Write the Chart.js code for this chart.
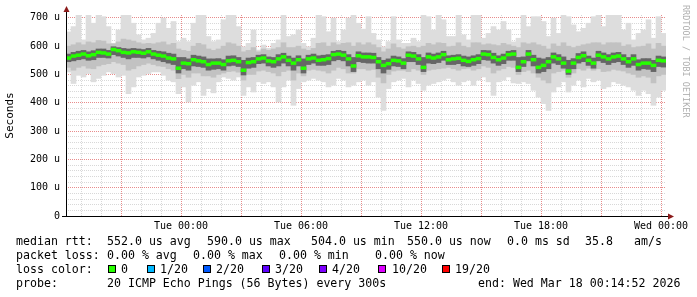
<!DOCTYPE html>
<html>
<head>
<meta charset="utf-8">
<script src="https://cdn.jsdelivr.net/npm/chart.js@4.4.1/dist/chart.umd.min.js"></script>
<style>
  html, body { margin: 0; padding: 0; background: #fff; }
  #wrap { position: relative; width: 697px; height: 297px; overflow: hidden; font-family: "DejaVu Sans Mono", monospace; }
  #wrap canvas { position: absolute; left: 0; top: 0; }
  .t { position: absolute; font-size: 11.6px; line-height: 14px; white-space: pre; color: #000; }
  .box { position: absolute; top: 265px; width: 6px; height: 6px; border: 1px solid #000; }
  #mark { position: absolute; left: 691px; top: 5px; font-size: 8.5px; line-height: 10px; color: #b0b0b0; white-space: pre; transform-origin: 0 0; transform: rotate(90deg); }
</style>
</head>
<body>
<div id="wrap">
  <canvas id="rtt" width="697" height="297"></canvas>
  <div id="mark">RRDTOOL / TOBI OETIKER</div>

  <span class="t" style="left:16px;top:234px">median rtt:</span>
  <span class="t" style="left:107px;top:234px">552.0 us avg</span>
  <span class="t" style="left:207px;top:234px">590.0 us max</span>
  <span class="t" style="left:311px;top:234px">504.0 us min</span>
  <span class="t" style="left:407px;top:234px">550.0 us now</span>
  <span class="t" style="left:507px;top:234px">0.0 ms sd</span>
  <span class="t" style="left:585px;top:234px">35.8</span>
  <span class="t" style="left:634px;top:234px">am/s</span>

  <span class="t" style="left:16px;top:248px">packet loss:</span>
  <span class="t" style="left:107px;top:248px">0.00 % avg</span>
  <span class="t" style="left:193px;top:248px">0.00 % max</span>
  <span class="t" style="left:279px;top:248px">0.00 % min</span>
  <span class="t" style="left:375px;top:248px">0.00 % now</span>

  <span class="t" style="left:16px;top:262px">loss color:</span>
  <span class="box" style="left:108px;background:#26ff00"></span><span class="t" style="left:121px;top:262px">0</span>
  <span class="box" style="left:147px;background:#00b8ff"></span><span class="t" style="left:160px;top:262px">1/20</span>
  <span class="box" style="left:203px;background:#0059ff"></span><span class="t" style="left:216px;top:262px">2/20</span>
  <span class="box" style="left:262px;background:#5e00ff"></span><span class="t" style="left:275px;top:262px">3/20</span>
  <span class="box" style="left:319px;background:#7e00ff"></span><span class="t" style="left:332px;top:262px">4/20</span>
  <span class="box" style="left:378px;background:#dd00ff"></span><span class="t" style="left:392px;top:262px">10/20</span>
  <span class="box" style="left:442px;background:#ff0000"></span><span class="t" style="left:455px;top:262px">19/20</span>

  <span class="t" style="left:16px;top:276px">probe:</span>
  <span class="t" style="left:107px;top:276px">20 ICMP Echo Pings (56 Bytes) every 300s</span>
  <span class="t" style="left:478px;top:276px">end: Wed Mar 18 00:14:52 2026</span>
</div>
<script>
// 15 minute slots, hours relative to Tue 00:00 (window: Mon 18:15 -> Wed 00:15)
const firstSlot = -5.625;
const slotHours = 0.25;

// median rtt per slot (microseconds)
const medianRtt = [
  558, 565, 568, 572, 566, 570, 578, 576, 572, 588,
  584, 578, 576, 580, 578, 575, 580, 572, 568, 565,
  558, 555, 522, 540, 538, 552, 548, 545, 535, 540,
  540, 535, 548, 550, 545, 515, 542, 545, 555, 558,
  548, 545, 555, 562, 550, 540, 552, 522, 555, 558,
  550, 552, 556, 570, 572, 568, 555, 530, 566, 562,
  562, 560, 545, 532, 538, 550, 548, 540, 568, 565,
  555, 525, 562, 558, 562, 570, 552, 555, 557, 550,
  546, 552, 556, 572, 570, 560, 552, 558, 570, 572,
  525, 545, 572, 552, 525, 532, 545, 562, 555, 540,
  512, 540, 560, 566, 550, 540, 568, 562, 555, 562,
  565, 555, 545, 555, 535, 540, 540, 532, 550, 548
];

// slowest / fastest ping per slot
const pingMax = [
  650, 669, 712, 622, 712, 681, 710, 704, 669, 610,
  657, 710, 712, 681, 640, 622, 628, 645, 681, 699,
  663, 687, 616, 628, 616, 681, 710, 710, 634, 616,
  622, 693, 712, 712, 669, 598, 610, 657, 586, 604,
  592, 610, 622, 710, 634, 640, 657, 610, 598, 628,
  710, 704, 651, 699, 616, 657, 699, 710, 681, 660,
  704, 645, 622, 598, 616, 704, 622, 610, 610, 628,
  616, 710, 704, 657, 710, 693, 634, 634, 710, 640,
  622, 710, 710, 628, 645, 669, 657, 687, 657, 615,
  628, 712, 669, 704, 704, 687, 634, 699, 645, 710,
  704, 675, 651, 663, 681, 704, 710, 669, 710, 710,
  710, 657, 681, 622, 645, 657, 693, 628, 704, 645
];
const pingMin = [
  509, 468, 497, 491, 503, 474, 486, 497, 509, 503,
  491, 497, 432, 456, 491, 497, 503, 509, 509, 497,
  480, 474, 432, 456, 403, 462, 474, 426, 450, 435,
  474, 491, 486, 480, 491, 426, 456, 438, 474, 468,
  474, 456, 403, 456, 480, 391, 450, 474, 480, 486,
  480, 474, 456, 462, 486, 480, 456, 462, 474, 480,
  462, 474, 420, 373, 450, 474, 480, 486, 456, 480,
  468, 444, 462, 468, 474, 480, 486, 474, 462, 474,
  480, 462, 480, 491, 474, 426, 474, 480, 491, 470,
  468, 474, 468, 444, 420, 397, 373, 438, 456, 474,
  438, 462, 480, 456, 486, 474, 480, 450, 456, 474,
  468, 462, 456, 444, 426, 444, 432, 391, 420, 444
];

// wide smoke band
const smokeHi = [
  600, 605, 612, 605, 615, 612, 620, 618, 608, 608,
  615, 625, 622, 618, 612, 608, 610, 608, 612, 615,
  605, 610, 590, 585, 582, 600, 610, 605, 590, 585,
  590, 600, 612, 608, 600, 580, 585, 595, 580, 590,
  585, 590, 595, 612, 595, 595, 600, 590, 585, 592,
  610, 612, 600, 612, 605, 610, 612, 600, 612, 605,
  612, 605, 595, 580, 590, 608, 595, 590, 598, 600,
  595, 600, 610, 605, 612, 610, 598, 600, 612, 600,
  595, 612, 612, 605, 608, 605, 602, 610, 605, 600,
  595, 612, 608, 612, 605, 600, 590, 608, 600, 612,
  600, 595, 600, 605, 608, 612, 612, 605, 612, 612,
  612, 600, 605, 595, 598, 600, 608, 590, 610, 600
];
const smokeLo = [
  525, 515, 525, 530, 522, 520, 530, 535, 538, 545,
  540, 535, 515, 520, 530, 535, 540, 535, 530, 528,
  520, 515, 485, 500, 490, 505, 505, 495, 495, 490,
  500, 505, 510, 512, 508, 480, 500, 500, 512, 515,
  510, 505, 495, 510, 515, 480, 505, 495, 515, 518,
  515, 512, 505, 515, 525, 520, 505, 505, 520, 520,
  515, 518, 490, 470, 500, 512, 515, 515, 510, 520,
  515, 500, 515, 518, 520, 522, 525, 520, 515, 520,
  522, 515, 520, 530, 525, 505, 515, 520, 528, 525,
  500, 510, 515, 505, 490, 480, 470, 505, 510, 515,
  490, 505, 520, 515, 522, 515, 520, 510, 512, 518,
  515, 512, 505, 500, 490, 495, 490, 470, 495, 500
];

// dense core around the median
const coreHi = [
  572, 578, 582, 585, 580, 584, 590, 590, 585, 598,
  595, 592, 590, 592, 590, 588, 592, 585, 582, 580,
  575, 572, 560, 560, 555, 568, 565, 562, 555, 555,
  556, 552, 565, 566, 560, 550, 558, 560, 568, 570,
  562, 560, 570, 575, 565, 558, 566, 555, 568, 572,
  566, 568, 570, 582, 585, 582, 570, 560, 580, 576,
  576, 575, 560, 550, 555, 565, 562, 556, 580, 578,
  570, 560, 576, 572, 576, 582, 566, 568, 570, 565,
  562, 566, 570, 585, 584, 575, 566, 572, 582, 585,
  560, 562, 585, 568, 558, 555, 560, 576, 570, 562,
  550, 556, 574, 580, 565, 558, 582, 576, 570, 576,
  578, 570, 560, 570, 552, 556, 556, 550, 565, 562
];
const coreLo = [
  545, 548, 552, 555, 550, 552, 560, 560, 558, 570,
  565, 560, 555, 560, 560, 558, 562, 555, 550, 545,
  540, 535, 505, 520, 515, 530, 528, 525, 515, 518,
  520, 515, 530, 532, 528, 498, 522, 525, 538, 540,
  530, 525, 530, 540, 530, 515, 530, 505, 535, 540,
  532, 532, 535, 548, 552, 548, 530, 510, 545, 542,
  540, 540, 520, 505, 518, 530, 528, 520, 545, 545,
  535, 510, 540, 538, 542, 550, 535, 535, 538, 530,
  528, 532, 538, 552, 550, 540, 532, 538, 550, 550,
  510, 528, 548, 530, 505, 510, 520, 540, 535, 522,
  500, 520, 540, 545, 532, 522, 548, 542, 535, 542,
  545, 535, 525, 532, 515, 520, 518, 510, 528, 526
];

// axis ticks: hourly grid from Mon 19:00 to Wed 00:00, 20 us grid up to 700 us
const xGridHours = [-5, -4, -3, -2, -1, 0, 1, 2, 3, 4, 5, 6, 7, 8, 9, 10, 11, 12,
  13, 14, 15, 16, 17, 18, 19, 20, 21, 22, 23, 24];
const xTickHours = [0, 6, 12, 18, 24];
const xTickText = ['Tue 00:00', 'Tue 06:00', 'Tue 12:00', 'Tue 18:00', 'Wed 00:00'];
const yGridValues = [0, 20, 40, 60, 80, 100, 120, 140, 160, 180, 200, 220, 240, 260, 280,
  300, 320, 340, 360, 380, 400, 420, 440, 460, 480, 500, 520, 540, 560, 580, 600,
  620, 640, 660, 680, 700];

const slotX = medianRtt.map((_, i) => firstSlot + i * slotHours);
function band(lo, hi) {
  return slotX.map((x, i) => ({ x: x, y: [lo[i], hi[i]] }));
}
const medianTick = slotX.map((x, i) => ({ x: x, y: [medianRtt[i] - 5, medianRtt[i] + 5] }));

const minorGrid = '#d8d8d8';
const majorGrid = '#e88c8c';
const tickFont = { family: 'DejaVu Sans Mono', size: 10 };

const axisArrows = {
  id: 'axisArrows',
  afterDraw(chart) {
    const { ctx, chartArea: a } = chart;
    ctx.save();
    ctx.strokeStyle = '#000';
    ctx.lineWidth = 1;
    ctx.beginPath();
    ctx.moveTo(a.left - 4, a.bottom + 0.5);
    ctx.lineTo(a.right + 4, a.bottom + 0.5);
    ctx.moveTo(a.left + 0.5, a.bottom + 1);
    ctx.lineTo(a.left + 0.5, a.top - 4);
    ctx.stroke();
    ctx.fillStyle = '#8b1a1a';
    ctx.beginPath();
    ctx.moveTo(a.left + 0.5, a.top - 9);
    ctx.lineTo(a.left - 2.5, a.top - 3);
    ctx.lineTo(a.left + 3.5, a.top - 3);
    ctx.fill();
    ctx.beginPath();
    ctx.moveTo(a.right + 8, a.bottom + 0.5);
    ctx.lineTo(a.right + 2, a.bottom - 2.5);
    ctx.lineTo(a.right + 2, a.bottom + 3.5);
    ctx.fill();
    ctx.restore();
  }
};

new Chart(document.getElementById('rtt'), {
  type: 'bar',
  data: {
    datasets: [
      { label: 'median', data: medianTick, backgroundColor: '#26ff00', order: 0 },
      { label: 'core', data: band(coreLo, coreHi), backgroundColor: '#666666', order: 1 },
      { label: 'smoke', data: band(smokeLo, smokeHi), backgroundColor: '#c2c2c2', order: 2 },
      { label: 'range', data: band(pingMin, pingMax), backgroundColor: '#dddddd', order: 3 }
    ]
  },
  options: {
    responsive: false,
    animation: false,
    devicePixelRatio: 1,
    layout: { padding: { left: 0, top: 15, right: 31, bottom: 63 } },
    datasets: {
      bar: { grouped: false, barPercentage: 1, categoryPercentage: 1, borderWidth: 0 }
    },
    plugins: { legend: { display: false }, tooltip: { enabled: false } },
    scales: {
      x: {
        type: 'linear',
        offset: false,
        min: -5.75,
        max: 24.25,
        afterBuildTicks: s => { s.ticks = xGridHours.map(v => ({ value: v })); },
        afterFit: s => { s.height = 18; },
        ticks: {
          autoSkip: false,
          maxRotation: 0,
          padding: 4,
          color: '#000',
          font: tickFont,
          callback: v => { const k = xTickHours.indexOf(v); return k < 0 ? '' : xTickText[k]; }
        },
        grid: {
          offset: false,
          drawTicks: false,
          lineWidth: 1,
          color: c => (Math.abs(c.tick.value) % 3 === 0) ? majorGrid : minorGrid
        },
        border: { display: false, dash: [1, 1] }
      },
      y: {
        min: 0,
        max: 710,
        afterBuildTicks: s => { s.ticks = yGridValues.map(v => ({ value: v })); },
        afterFit: s => { s.width = 66; },
        ticks: {
          autoSkip: false,
          padding: 6,
          color: '#000',
          font: tickFont,
          callback: v => v % 100 !== 0 ? '' : (v === 0 ? '0' : v + ' u')
        },
        title: {
          display: true,
          text: 'Seconds',
          color: '#000',
          font: { family: 'DejaVu Sans Mono', size: 11 },
          padding: { top: 4, bottom: 0 }
        },
        grid: {
          drawTicks: false,
          lineWidth: 1,
          color: c => {
            if (c.tick.value === 0) return 'rgba(0,0,0,0)';
            return c.tick.value % 100 === 0 ? majorGrid : minorGrid;
          }
        },
        border: { display: false, dash: [1, 1] }
      }
    }
  },
  plugins: [axisArrows]
});
</script>
</body>
</html>
